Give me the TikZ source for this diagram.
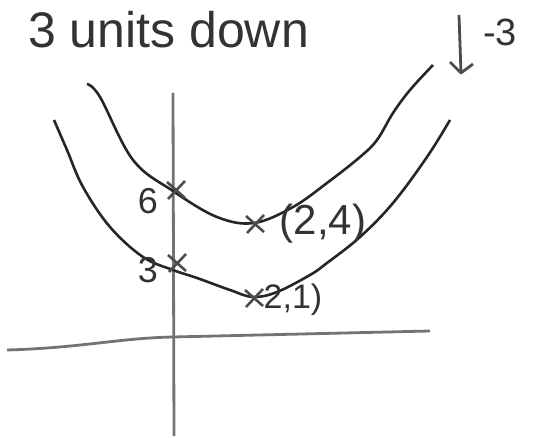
\documentclass[tikz,border=0pt]{standalone}
\usepackage{fontspec}
\setmainfont{Liberation Sans}
\begin{document}
\begin{tikzpicture}[x=1pt,y=-1pt,
  axis/.style={draw=black!55,line width=2.8pt},
  curve/.style={draw=black!85,line width=2.6pt},
  lbl/.style={inner sep=0pt,text=black!80},
  xmark/.style={draw=black!70,line width=2.6pt}]
\useasboundingbox (0,0) rectangle (536,438);
% title
\node[lbl,font=\fontsize{50}{52}\selectfont,anchor=west] (title) at (28,30) {3 units down};
% shift arrow
\coordinate (atop) at (459,15);
\coordinate (abot) at (461,73);
\draw[black!70,line width=2.8pt] (atop) -- (abot);
\draw[black!70,line width=2.8pt,line join=round] (450,62) -- (abot) -- (473,64);
\node[lbl,font=\fontsize{38}{40}\selectfont] (shift) at (500,32) {-3};
% axes
\coordinate (yt) at (173,93);
\coordinate (yb) at (174,436);
\coordinate (xl) at (7,350);
\coordinate (xr) at (430,331);
\draw[axis] (yt) -- (yb);
\draw[axis] (xl) .. controls (80,348) and (120,338) .. (173,337) -- (xr);
% upper curve
\draw[curve] plot[smooth,tension=0.6] coordinates {(87,84) (100,97) (133,160) (173,191) (217,217) (254,223) (293,207) (327,183) (360,157) (377,140) (393,113) (410,90) (433,65)};
% lower curve
\draw[curve] plot[smooth,tension=0.6] coordinates {(54,120) (67,150) (83,187) (110,227) (143,257) (173,270) (197,278) (230,290) (253,297) (277,292) (310,275) (327,263) (360,237) (393,203) (427,157) (450,120)};
% markers
\coordinate (m6) at (176,190);
\coordinate (m3) at (177,263);
\coordinate (m24) at (255,224);
\coordinate (m21) at (254,298);
\foreach \m in {m6,m3,m24,m21}{
  \draw[xmark] ([shift={(-9,-8)}]\m) -- ([shift={(9,8)}]\m);
  \draw[xmark] ([shift={(-8,9)}]\m) -- ([shift={(9,-9)}]\m);
}
% labels
\node[lbl,font=\fontsize{36}{38}\selectfont] (l6) at (148,201) {6};
\node[lbl,font=\fontsize{36}{38}\selectfont] (l3) at (148,270) {3};
\node[lbl,font=\fontsize{42}{44}\selectfont] (l24) at (323,224) {(2,4)};
\node[lbl,font=\fontsize{34}{36}\selectfont] (l21) at (293,300) {2,1)};
\end{tikzpicture}
\end{document}
